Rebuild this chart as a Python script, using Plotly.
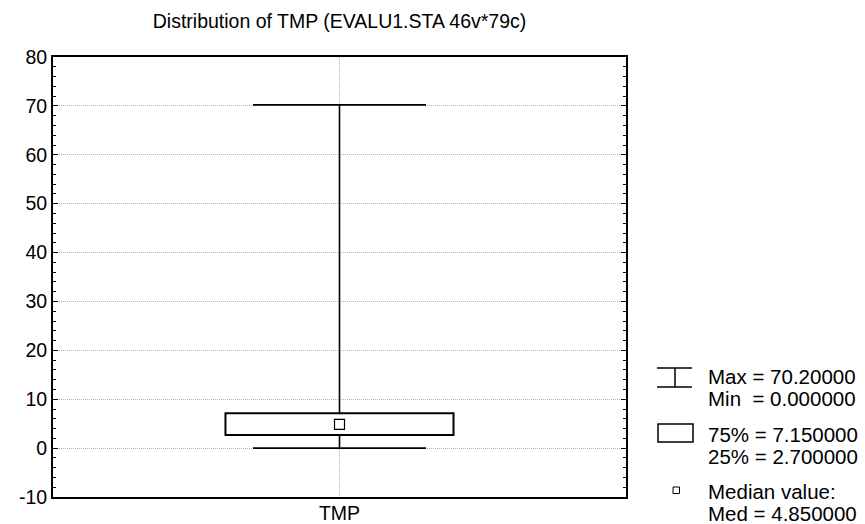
import plotly.graph_objects as go

# ---- data ----
categories = ["TMP"]
v_max = [70.2]
v_min = [0.0]
q75 = [7.15]
q25 = [2.7]
median = [4.85]
y_ticks = [-10, 0, 10, 20, 30, 40, 50, 60, 70, 80]
legend_lines = ["Max = 70.20000", "Min  = 0.000000", "75% = 7.150000",
                "25% = 2.700000", "Median value:", "Med = 4.850000"]
title_text = "Distribution of TMP (EVALU1.STA 46v*79c)"

FONT = "Liberation Sans, Arial, sans-serif"
FS = 19.5
FS_LEG = 20.5

# plot area in pixels
W, H = 865, 524
L, R, T, B = 53, 626, 57, 497

xpos = list(range(len(categories)))
cap_half = 0.302
box_w = 0.796

fig = go.Figure()

# whiskers + caps
wx, wy = [], []
for i, x in enumerate(xpos):
    wx += [x, x, None, x, x, None,
           x - cap_half, x + cap_half, None, x - cap_half, x + cap_half, None]
    wy += [q75[i], v_max[i], None, v_min[i], q25[i], None,
           v_max[i], v_max[i], None, v_min[i], v_min[i], None]
fig.add_trace(go.Scatter(x=wx, y=wy, mode="lines",
                         line=dict(color="black", width=1.6),
                         hoverinfo="skip", showlegend=False))

# box (25%-75%)
fig.add_trace(go.Bar(x=xpos, y=[q75[i] - q25[i] for i in range(len(xpos))],
                     base=q25, width=box_w,
                     marker=dict(color="white", line=dict(color="black", width=2)),
                     showlegend=False))

# median marker
fig.add_trace(go.Scatter(x=xpos, y=median, mode="markers",
                         marker=dict(symbol="square-open", size=10, color="black",
                                     line=dict(width=1.2, color="black")),
                         showlegend=False))

def px(x):
    return (x - L) / (R - L)

def py(y):
    return (B - y) / (B - T)

# legend symbols (decoration)
shapes = []
line_k = dict(color="black", width=1.5)
shapes.append(dict(type="line", xref="paper", yref="paper", x0=px(657), x1=px(692),
                   y0=py(368), y1=py(368), line=line_k))
shapes.append(dict(type="line", xref="paper", yref="paper", x0=px(657), x1=px(692),
                   y0=py(387), y1=py(387), line=line_k))
shapes.append(dict(type="line", xref="paper", yref="paper", x0=px(675), x1=px(675),
                   y0=py(368), y1=py(387), line=line_k))
shapes.append(dict(type="rect", xref="paper", yref="paper", x0=px(658), x1=px(693),
                   y0=py(442), y1=py(424), line=dict(color="black", width=1.5),
                   fillcolor="white"))
shapes.append(dict(type="rect", xref="paper", yref="paper", x0=px(673), x1=px(679.5),
                   y0=py(493.5), y1=py(487), line=dict(color="black", width=1),
                   fillcolor="white"))

annotations = []
text_y = [376, 398, 434, 456, 491, 513]
for t, y in zip(legend_lines, text_y):
    annotations.append(dict(text=t, xref="paper", yref="paper", x=px(706), y=py(y),
                            xanchor="left", yanchor="middle", showarrow=False,
                            font=dict(family=FONT, size=FS_LEG, color="black")))

fig.update_layout(
    width=W, height=H,
    margin=dict(l=L, r=W - R, t=T, b=H - B, autoexpand=False),
    paper_bgcolor="white", plot_bgcolor="white",
    title=dict(text=title_text, x=0.5, xref="paper", y=1 - 21 / H, yref="container",
               xanchor="center", yanchor="middle",
               font=dict(family=FONT, size=FS, color="black")),
    font=dict(family=FONT, size=FS, color="black"),
    shapes=shapes, annotations=annotations,
    showlegend=False,
)
GRID = "#b4b4b4"
fig.update_xaxes(range=[-1, 1], tickvals=xpos, ticktext=categories,
                 showline=True, linecolor="black", linewidth=2, mirror=True,
                 ticks="", showgrid=True, gridcolor=GRID, griddash="1px,1px",
                 gridwidth=1, zeroline=False, tickfont=dict(size=FS),
                 ticklabelstandoff=-2,
                 automargin=False, fixedrange=True)
fig.update_yaxes(range=[-10, 80], tickvals=y_ticks, ticktext=[str(v) for v in y_ticks],
                 showline=True, linecolor="black", linewidth=2, mirror="allticks",
                 ticks="inside", ticklen=5, tickcolor="black", tickwidth=1,
                 minor=dict(dtick=2, ticks="inside", ticklen=3, tickcolor="black",
                            showgrid=False),
                 showgrid=True, gridcolor=GRID, griddash="1px,1px", gridwidth=1,
                 zeroline=False, tickfont=dict(size=FS), automargin=False,
                 fixedrange=True)

fig.write_html("out.html")
